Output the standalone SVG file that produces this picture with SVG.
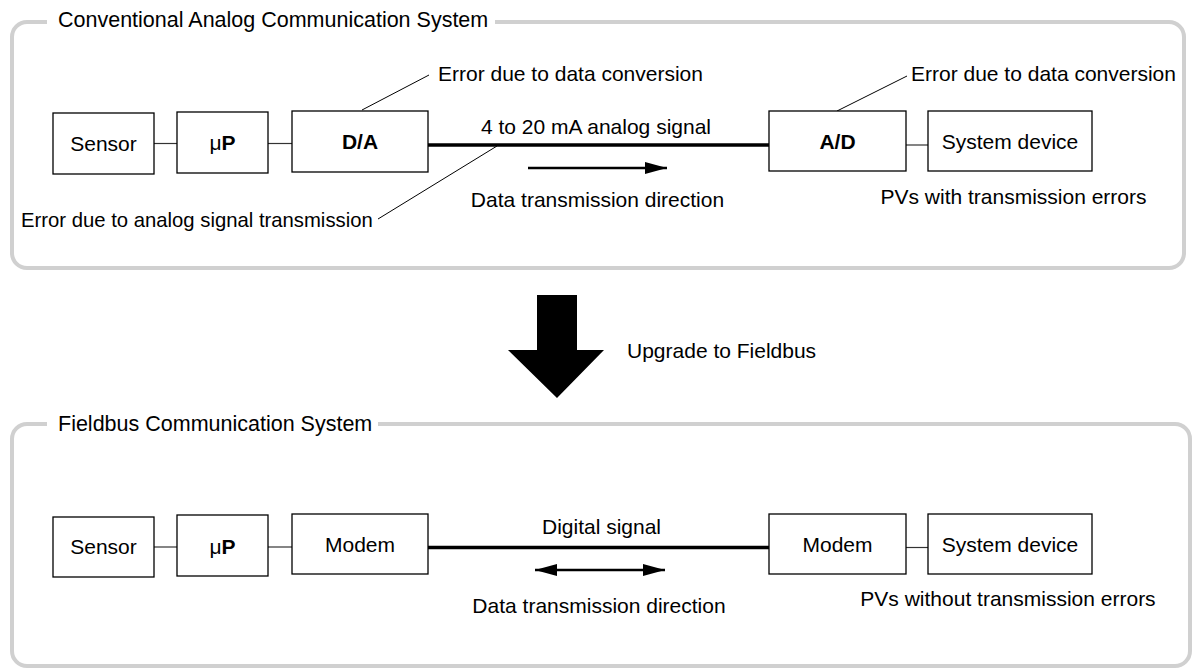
<svg xmlns="http://www.w3.org/2000/svg" width="1197" height="668" viewBox="0 0 1197 668">
<style>
text{font-family:"Liberation Sans",Arial,sans-serif;font-size:21px;fill:#000}
.title{font-size:21.5px}
.c{text-anchor:middle}
.b{font-weight:bold}
.box{fill:#fff;stroke:#000;stroke-width:1.3}
.panel{fill:none;stroke:#d0d0d0;stroke-width:4}
.thin{stroke:#333;stroke-width:1.2;fill:none}
.thick{stroke:#000;stroke-width:3.6;fill:none}
.leader{stroke:#000;stroke-width:1;fill:none}
.arr{stroke:#000;stroke-width:2.3;fill:none}
</style>
<defs>
<marker id="ah" viewBox="0 0 22 12" refX="22" refY="6" markerWidth="22" markerHeight="12" markerUnits="userSpaceOnUse" orient="auto-start-reverse">
<path d="M0 0 L22 6 L0 12 Z" fill="#000"/>
</marker>
</defs>
<g id="panel-top">
<path class="panel" d="M47 22 H27 A15 15 0 0 0 12 37 V253 A15 15 0 0 0 27 268 H1169 A15 15 0 0 0 1184 253 V37 A15 15 0 0 0 1169 22 H495"/>
<text class="title" x="58" y="27">Conventional Analog Communication System</text>
</g>
<g id="panel-bottom">
<path class="panel" d="M47 424 H27 A15 15 0 0 0 12 439 V651 A15 15 0 0 0 27 666 H1175 A15 15 0 0 0 1190 651 V439 A15 15 0 0 0 1175 424 H378"/>
<text class="title" x="58" y="431">Fieldbus Communication System</text>
</g>
<g id="connectors">
<line class="thin" x1="154" y1="143.5" x2="177" y2="143.5"/>
<line class="thin" x1="268" y1="143.5" x2="292" y2="143.5"/>
<line class="thick" x1="428" y1="145" x2="769" y2="145"/>
<line class="thin" x1="906" y1="145" x2="928" y2="145"/>
<line class="leader" x1="362" y1="110" x2="429" y2="75"/>
<line class="leader" x1="837" y1="111" x2="907" y2="76"/>
<line class="leader" x1="378" y1="219" x2="497" y2="146"/>
<line class="arr" x1="528" y1="168" x2="667" y2="168" marker-end="url(#ah)"/>
<line class="thin" x1="154" y1="547" x2="177" y2="547"/>
<line class="thin" x1="268" y1="547" x2="292" y2="547"/>
<line class="thick" x1="428" y1="547.5" x2="769" y2="547.5"/>
<line class="thin" x1="906" y1="547.5" x2="928" y2="547.5"/>
<line class="arr" x1="535" y1="570" x2="665" y2="570" marker-start="url(#ah)" marker-end="url(#ah)"/>
</g>
<g id="sensor-1"><rect class="box" x="53" y="113" width="101" height="61"/><text class="c" x="103.5" y="150.5">Sensor</text></g>
<g id="up-1"><rect class="box" x="177" y="112" width="91" height="61"/><text class="c" x="222.5" y="150">μ<tspan class="b">P</tspan></text></g>
<g id="da"><rect class="box" x="292" y="111" width="136" height="61"/><text class="c b" x="360" y="149">D/A</text></g>
<g id="ad"><rect class="box" x="769" y="111" width="137" height="60"/><text class="c b" x="837.5" y="149">A/D</text></g>
<g id="sysdev-1"><rect class="box" x="928" y="111" width="164" height="60"/><text class="c" x="1010" y="149">System device</text></g>
<g id="labels-top">
<text x="438" y="81">Error due to data conversion</text>
<text x="911" y="81">Error due to data conversion</text>
<text class="c" x="596" y="133.5">4 to 20 mA analog signal</text>
<text class="c" x="597.5" y="207">Data transmission direction</text>
<text class="c" x="1013.5" y="203.5">PVs with transmission errors</text>
<text x="21" y="227" style="font-size:20.3px">Error due to analog signal transmission</text>
</g>
<g id="upgrade">
<path d="M537 295 H577 V350 H604 L557 398 L508 350 H537 Z" fill="#000"/>
<text x="627" y="357.5">Upgrade to Fieldbus</text>
</g>
<g id="sensor-2"><rect class="box" x="53" y="517" width="101" height="60"/><text class="c" x="103.5" y="554">Sensor</text></g>
<g id="up-2"><rect class="box" x="177" y="515" width="91" height="61"/><text class="c" x="222.5" y="554">μ<tspan class="b">P</tspan></text></g>
<g id="modem-1"><rect class="box" x="292" y="514" width="136" height="60"/><text class="c" x="360" y="552">Modem</text></g>
<g id="modem-2"><rect class="box" x="769" y="514" width="137" height="60"/><text class="c" x="837.5" y="552">Modem</text></g>
<g id="sysdev-2"><rect class="box" x="928" y="514" width="164" height="60"/><text class="c" x="1010" y="552">System device</text></g>
<g id="labels-bottom">
<text class="c" x="601.5" y="534">Digital signal</text>
<text class="c" x="599" y="613">Data transmission direction</text>
<text class="c" x="1008" y="606">PVs without transmission errors</text>
</g>
</svg>
